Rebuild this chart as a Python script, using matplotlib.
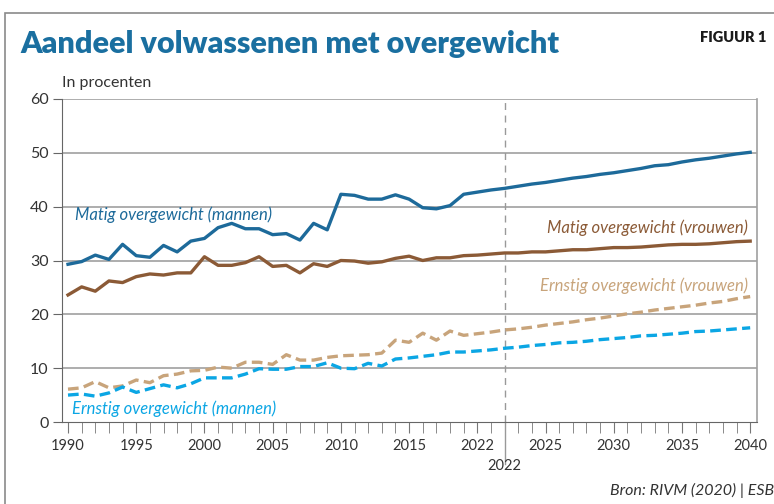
import matplotlib.pyplot as plt
import matplotlib.patches as patches
from matplotlib.transforms import blended_transform_factory

years = list(range(1990, 2041))

matig_mannen = [29.3, 29.8, 31.0, 30.2, 33.0, 30.9, 30.6, 32.8, 31.6, 33.6,
                34.1, 36.1, 36.9, 35.9, 35.9, 34.8, 35.0, 33.8, 36.9, 35.7,
                42.3, 42.1, 41.4, 41.4, 42.2, 41.4, 39.8, 39.6, 40.2, 42.3,
                42.7, 43.1, 43.4, 43.8, 44.2, 44.5, 44.9, 45.3, 45.6, 46.0,
                46.3, 46.7, 47.1, 47.6, 47.8, 48.3, 48.7, 49.0, 49.4, 49.8, 50.1]
matig_vrouwen = [23.6, 25.1, 24.3, 26.2, 25.9, 27.0, 27.5, 27.3, 27.7, 27.7,
                 30.7, 29.1, 29.1, 29.6, 30.7, 28.9, 29.1, 27.7, 29.4, 28.9,
                 30.0, 29.9, 29.5, 29.75, 30.4, 30.8, 30.0, 30.5, 30.5, 30.9,
                 31.0, 31.2, 31.4, 31.4, 31.6, 31.6, 31.8, 32.0, 32.0, 32.2,
                 32.4, 32.4, 32.5, 32.7, 32.9, 33.0, 33.0, 33.1, 33.3, 33.5, 33.6]
ernstig_vrouwen = [6.1, 6.35, 7.5, 6.35, 6.7, 7.8, 7.3, 8.6, 8.9, 9.5,
                   9.6, 10.2, 10.0, 11.1, 11.1, 10.7, 12.5, 11.5, 11.5, 12.0,
                   12.3, 12.4, 12.5, 12.8, 15.2, 14.8, 16.5, 15.2, 16.9, 16.1,
                   16.4, 16.7, 17.1, 17.3, 17.6, 18.0, 18.3, 18.6, 19.0, 19.3,
                   19.7, 20.1, 20.4, 20.8, 21.1, 21.4, 21.7, 22.1, 22.4, 22.9, 23.3]
ernstig_mannen = [5.0, 5.2, 4.8, 5.4, 6.5, 5.5, 6.2, 6.9, 6.35, 7.1,
                  8.2, 8.2, 8.2, 8.9, 9.9, 9.8, 9.8, 10.3, 10.3, 11.0,
                  10.0, 9.9, 10.9, 10.4, 11.7, 11.9, 12.2, 12.5, 13.0, 13.0,
                  13.2, 13.4, 13.7, 13.9, 14.2, 14.4, 14.7, 14.8, 15.0, 15.3,
                  15.5, 15.7, 16.0, 16.1, 16.3, 16.5, 16.8, 16.9, 17.1, 17.3, 17.5]

xticks = [1990, 1995, 2000, 2005, 2010, 2015, 2020, 2025, 2030, 2035, 2040]
xtick_labels = ['1990', '1995', '2000', '2005', '2010', '2015', '2022',
                '2025', '2030', '2035', '2040']
yticks = [0, 10, 20, 30, 40, 50, 60]

c_dark = '#1d6a9a'
c_brown = '#8b5a36'
c_tan = '#c8a47b'
c_light = '#0ba6e4'
c_grid = '#a0a0a0'
c_text = '#333333'

plt.rcParams['font.family'] = ['Lato', 'DejaVu Sans']

fig = plt.figure(figsize=(7.74, 5.04), dpi=100)
ax = fig.add_axes([62/774, 1-422/504, (757-62)/774, (422-99)/504])
ax.set_xlim(1989.56, 2040.5)
ax.set_ylim(0, 60)

# kader om de figuur
fig.add_artist(patches.Rectangle((5/774, -0.1), 1.2, 1.1 - 13/504,
                                 transform=fig.transFigure, fill=False,
                                 edgecolor='#8a8a8a', lw=1.2))

for y in yticks[1:]:
    ax.axhline(y, color=c_grid, lw=1.2, zorder=1)

ax.plot(years, matig_mannen, color=c_dark, lw=2.4, zorder=3)
ax.plot(years, matig_vrouwen, color=c_brown, lw=2.4, zorder=3)
ax.plot(years, ernstig_vrouwen, color=c_tan, lw=2.4, dashes=(3.2, 1.6), zorder=3)
ax.plot(years, ernstig_mannen, color=c_light, lw=2.4, dashes=(3.2, 1.6), zorder=3)

# verticale lijn bij 2022
trans = blended_transform_factory(ax.transData, ax.transAxes)
ax.plot([2022, 2022], [0, 1], transform=trans, color='#999999', lw=1,
        dashes=(5, 4), zorder=2)
ax.plot([2022, 2022], [-0.13, 0], transform=trans, color='#999999', lw=1,
        clip_on=False)
ax.text(2022, -0.115, '2022', transform=trans, ha='center', va='top',
        fontsize=10.5, color=c_text)

ax.spines['top'].set_visible(False)
ax.spines['left'].set_color('#666666')
ax.spines['bottom'].set_color('#666666')
ax.spines['right'].set_color(c_grid)
ax.spines['right'].set_linewidth(1.2)

ax.set_yticks(yticks)
ax.set_yticklabels([str(v) for v in yticks], fontsize=11.5, color=c_text)
ax.tick_params(axis='y', length=6.5, color='#666666', pad=3)
ax.set_xticks(xticks)
ax.set_xticklabels(xtick_labels, fontsize=10.5, color=c_text)
ax.set_xticks(years, minor=True)
ax.tick_params(axis='x', which='both', length=8, color='#777777', pad=4)

ax.text(1990.5, 38.5, 'Matig overgewicht (mannen)', color=c_dark,
        fontsize=12, style='italic', va='center', ha='left')
ax.text(1990.3, 2.4, 'Ernstig overgewicht (mannen)', color=c_light,
        fontsize=12, style='italic', va='center', ha='left')
ax.text(2039.85, 36.0, 'Matig overgewicht (vrouwen)', color=c_brown,
        fontsize=12, style='italic', va='center', ha='right')
ax.text(2039.85, 25.4, 'Ernstig overgewicht (vrouwen)', color=c_tan,
        fontsize=12, style='italic', va='center', ha='right')

fig.text(20/774, 1-44/504, 'Aandeel volwassenen met overgewicht',
         fontsize=22, fontweight='heavy', color='#1a6fa0', va='center')
fig.text(700/774, 1-38/504, 'FIGUUR 1', fontsize=10.5, fontweight='heavy',
         color='#1a1a1a', va='center')
fig.text(62/774, 1-83/504, 'In procenten', fontsize=11.5, color=c_text,
         va='center')
fig.text(774/774, 1-490/504, 'Bron: RIVM (2020) | ESB', fontsize=11.5,
         style='italic', color=c_text, va='center', ha='right')

fig.savefig('out.png', dpi=100)
